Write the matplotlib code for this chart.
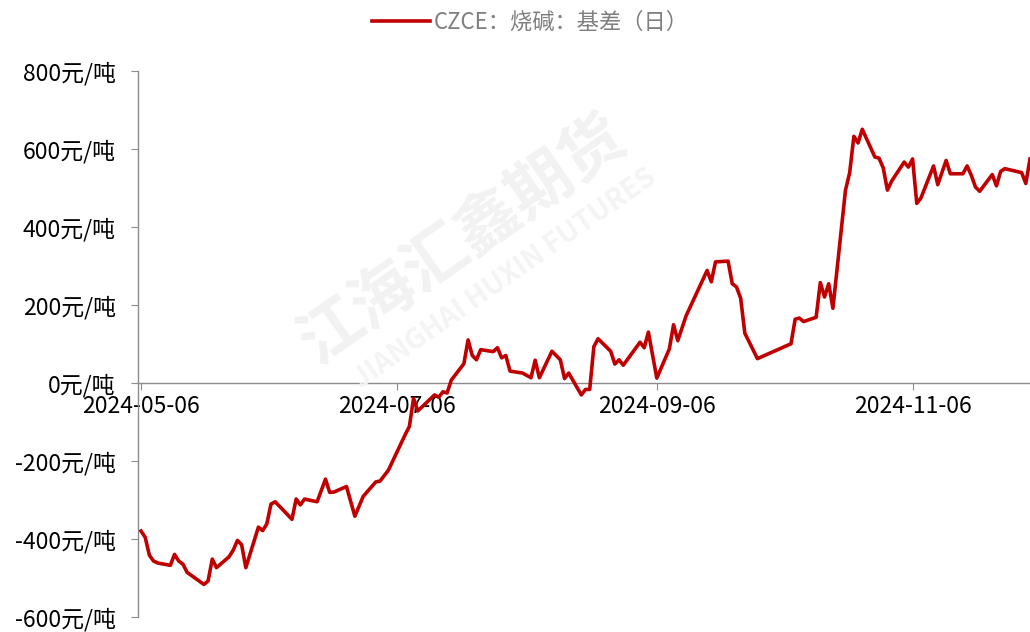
import numpy as np
import pandas as pd
import matplotlib
matplotlib.use("Agg")
import matplotlib.pyplot as plt
import matplotlib.dates as mdates

plt.rcParams['font.family'] = ['Noto Sans CJK SC', 'DejaVu Sans']
plt.rcParams['axes.unicode_minus'] = False

# 数据（读图估计，交易日）
dates = [
    "2024-05-06", "2024-05-07", "2024-05-08", "2024-05-09", "2024-05-10", "2024-05-13",
    "2024-05-14", "2024-05-15", "2024-05-16", "2024-05-17", "2024-05-21", "2024-05-22",
    "2024-05-23", "2024-05-24", "2024-05-27", "2024-05-28", "2024-05-29", "2024-05-30",
    "2024-05-31", "2024-06-03", "2024-06-04", "2024-06-05", "2024-06-06", "2024-06-07",
    "2024-06-11", "2024-06-12", "2024-06-13", "2024-06-14", "2024-06-17", "2024-06-19",
    "2024-06-20", "2024-06-21", "2024-06-24", "2024-06-26", "2024-06-28", "2024-07-01",
    "2024-07-02", "2024-07-04", "2024-07-08", "2024-07-09", "2024-07-10", "2024-07-11",
    "2024-07-12", "2024-07-15", "2024-07-16", "2024-07-17", "2024-07-18", "2024-07-19",
    "2024-07-22", "2024-07-23", "2024-07-24", "2024-07-25", "2024-07-26", "2024-07-29",
    "2024-07-30", "2024-07-31", "2024-08-01", "2024-08-02", "2024-08-05", "2024-08-07",
    "2024-08-08", "2024-08-09", "2024-08-12", "2024-08-14", "2024-08-15", "2024-08-16",
    "2024-08-19", "2024-08-20", "2024-08-21", "2024-08-22", "2024-08-23", "2024-08-26",
    "2024-08-27", "2024-08-28", "2024-08-29", "2024-09-02", "2024-09-03", "2024-09-04",
    "2024-09-06", "2024-09-09", "2024-09-10", "2024-09-11", "2024-09-13", "2024-09-18",
    "2024-09-19", "2024-09-20", "2024-09-23", "2024-09-24", "2024-09-25", "2024-09-26",
    "2024-09-27", "2024-09-30", "2024-10-08", "2024-10-09", "2024-10-10", "2024-10-11",
    "2024-10-14", "2024-10-15", "2024-10-16", "2024-10-17", "2024-10-18", "2024-10-21",
    "2024-10-22", "2024-10-23", "2024-10-24", "2024-10-25", "2024-10-28", "2024-10-29",
    "2024-10-30", "2024-10-31", "2024-11-01", "2024-11-04", "2024-11-05", "2024-11-06",
    "2024-11-07", "2024-11-08", "2024-11-11", "2024-11-12", "2024-11-14", "2024-11-15",
    "2024-11-18", "2024-11-19", "2024-11-20", "2024-11-21", "2024-11-22", "2024-11-25",
    "2024-11-26", "2024-11-27", "2024-11-28", "2024-12-02", "2024-12-03", "2024-12-04",
]
basis = [
    -380, -396, -442, -457, -462, -468,
    -440, -457, -465, -486, -517, -508,
    -452, -474, -446, -429, -404, -415,
    -474, -370, -379, -362, -311, -305,
    -350, -298, -313, -298, -305, -247,
    -281, -280, -266, -342, -291, -254,
    -252, -224, -133, -112, -40, -72,
    -62, -31, -37, -23, -26, 7,
    49, 110, 70, 59, 85, 80,
    90, 64, 70, 30, 25, 13,
    58, 13, 81, 59, 11, 25,
    -31, -17, -17, 93, 113, 81,
    48, 59, 45, 104, 90, 130,
    12, 87, 149, 108, 172, 288,
    259, 310, 312, 254, 246, 217,
    127, 62, 100, 163, 166, 157,
    168, 257, 220, 254, 191, 494,
    539, 632, 615, 650, 579, 576,
    551, 494, 517, 566, 553, 574,
    460, 474, 556, 508, 570, 536,
    536, 556, 532, 502, 491, 534,
    505, 542, 549, 539, 511, 574,
]
label = "CZCE：烧碱：基差（日）"
yticks = [-600, -400, -200, 0, 200, 400, 600, 800]
xticks = ["2024-05-06", "2024-07-06", "2024-09-06", "2024-11-06"]

x = pd.to_datetime(dates)

fig = plt.figure(figsize=(10.3, 6.32), dpi=100)
ax = fig.add_axes([0.134, 0.024, 0.866, 0.864])

# 水印
fig.text(0.45, 0.62, "江海汇鑫期货", fontsize=46, color="#f2f2f2", rotation=35,
         ha="center", va="center", fontweight="bold", zorder=0)
fig.text(0.49, 0.56, "JIANGHAI HUXIN FUTURES", fontsize=20, color="#f4f4f4", rotation=35,
         ha="center", va="center", fontweight="bold", zorder=0)

ax.plot(x, basis, color="#C00000", lw=2.6, label=label, zorder=3)

ax.set_ylim(-600, 800)
ax.set_yticks(yticks)
ax.set_yticklabels([f"{v}元/吨" for v in yticks])
ax.set_xlim(pd.Timestamp("2024-05-06") - pd.Timedelta(hours=17), pd.Timestamp("2024-12-04"))
ax.set_xticks(pd.to_datetime(xticks))
ax.xaxis.set_major_formatter(mdates.DateFormatter("%Y-%m-%d"))

ax.spines["bottom"].set_position(("data", 0))
for s in ["top", "right"]:
    ax.spines[s].set_visible(False)
for s in ["bottom", "left"]:
    ax.spines[s].set_color("#8c8c8c")
    ax.spines[s].set_linewidth(1.0)
ax.tick_params(axis="both", colors="#8c8c8c", labelcolor="black", labelsize=16.5, length=5)
ax.tick_params(axis="y", pad=11)
ax.tick_params(axis="x", pad=4)

ax.legend(loc="upper center", bbox_to_anchor=(0.515, 1.0), bbox_transform=fig.transFigure,
          frameon=False, fontsize=16, labelcolor="#7f7f7f", handlelength=2.6,
          handletextpad=0.15, borderaxespad=0.1)

fig.savefig("out.png", dpi=100)
